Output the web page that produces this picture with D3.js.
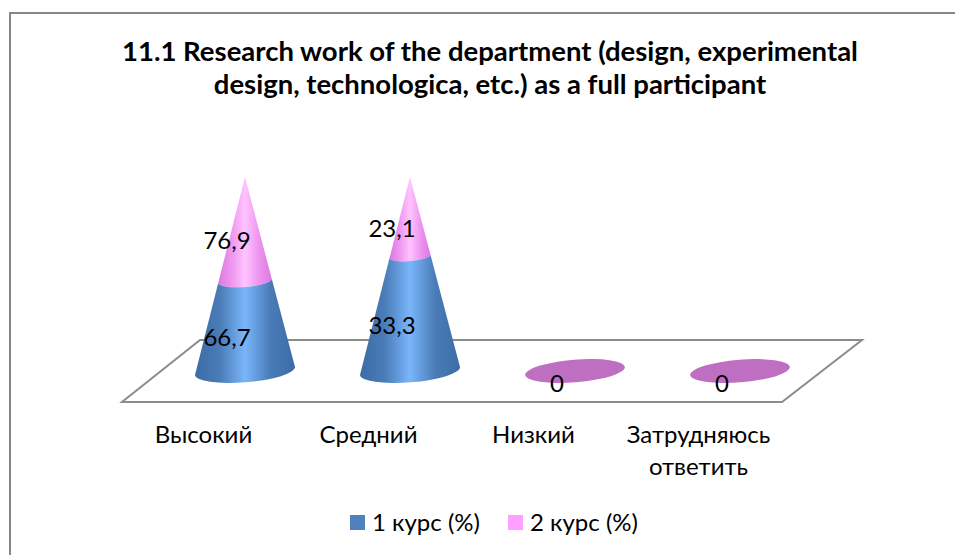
<!DOCTYPE html>
<html>
<head>
<meta charset="utf-8">
<script src="https://cdn.jsdelivr.net/npm/d3@7"></script>
<style>
body { margin: 0; background: #fff; }
svg { display: block; }
text { font-family: Lato, "Open Sans", sans-serif; fill: #000; }
</style>
</head>
<body>
<div id="draw"></div>
<script>
var titleLines = ["11.1 Research work of the department (design, experimental", "design, technologica, etc.) as a full participant"];
var categories = ["Высокий", "Средний", "Низкий", "Затрудняюсь ответить"];
var seriesNames = ["1 курс (%)", "2 курс (%)"];
var course1 = [66.7, 33.3, 0, 0];
var course2 = [76.9, 23.1, 0, 0];
var legendColors = ["#4f81bd", "#ff9fff"];

var width = 955, height = 555;
var svg = d3.select("#draw").append("svg")
	.attr("width", width)
	.attr("height", height);

var defs = svg.append("defs");
function coneGradient(id, stops) {
	var g = defs.append("linearGradient").attr("id", id);
	stops.forEach(function(s) {
		g.append("stop").attr("offset", s[0]).attr("stop-color", s[1]);
	});
}
coneGradient("blueCone", [[0, "#3c6ca5"], [0.25, "#4a7cb8"], [0.5, "#7ab6fb"], [0.75, "#4a7cb8"], [1, "#3c6ca5"]]);
coneGradient("pinkCone", [[0, "#dc78e2"], [0.25, "#ee96f0"], [0.5, "#ffc4ff"], [0.75, "#ee96f0"], [1, "#dc78e2"]]);

// frame, only top and left are in the picture
svg.append("path")
	.attr("d", "M10,555V13H955")
	.attr("fill", "none")
	.attr("stroke", "#868686")
	.attr("stroke-width", 2);

svg.selectAll(".title")
	.data(titleLines)
	.enter()
	.append("text")
	.attr("class", "title")
	.attr("x", 490)
	.attr("y", function(d, i) { return 61 + i * 33; })
	.attr("text-anchor", "middle")
	.style("font-size", "27.5px")
	.style("font-weight", 700)
	.text(function(d) { return d; });

// floor
var floor = [[122, 402], [782, 402], [862, 340], [200, 340]];
svg.append("path")
	.attr("d", d3.line()(floor) + "Z")
	.attr("fill", "#fff")
	.attr("stroke", "#8c8c8c")
	.attr("stroke-width", 2);

var x = d3.scaleBand()
	.domain(categories)
	.range([162.5, 822.5]);

// values are stacked to 100% of each category
var y = d3.scaleLinear().domain([0, 100]).range([371, 177]);
var baseRx = 50, baseRy = 11.3, tilt = -4.6;

var rows = categories.map(function(c, i) {
	var total = course1[i] + course2[i];
	return {
		cat: c,
		a: course1[i],
		b: course2[i],
		split: total ? course1[i] / total * 100 : 0,
		total: total
	};
});

function cx(d) { return x(d.cat) + x.bandwidth() / 2; }

// half-width of the cone at a given percent height
var radius = d3.scaleLinear().domain([0, 100]).range([baseRx, 0]);

function sliceBlue(d) {
	var c = cx(d), y0 = y(0), y1 = y(d.split), r0 = radius(0), r1 = radius(d.split);
	var t0 = Math.tan(tilt * Math.PI / 180) * r0, t1 = Math.tan(tilt * Math.PI / 180) * r1;
	return "M" + (c - r0) + "," + (y0 - t0) +
		"L" + (c - r1) + "," + (y1 - t1) +
		"A" + r1 + "," + (r1 * baseRy / baseRx) + " " + tilt + " 0 0 " + (c + r1) + "," + (y1 + t1) +
		"L" + (c + r0) + "," + (y0 + t0) +
		"A" + r0 + "," + baseRy + " " + tilt + " 0 1 " + (c - r0) + "," + (y0 - t0) + "Z";
}
function slicePink(d) {
	var c = cx(d), y1 = y(d.split), r1 = radius(d.split);
	var t1 = Math.tan(tilt * Math.PI / 180) * r1;
	return "M" + (c - r1) + "," + (y1 - t1) +
		"L" + c + "," + y(100) +
		"L" + (c + r1) + "," + (y1 + t1) +
		"A" + r1 + "," + (r1 * baseRy / baseRx) + " " + tilt + " 0 1 " + (c - r1) + "," + (y1 - t1) + "Z";
}

var cones = rows.filter(function(d) { return d.total > 0; });
svg.selectAll(".pink").data(cones).enter().append("path")
	.attr("class", "pink").attr("d", slicePink).attr("fill", "url(#pinkCone)");
svg.selectAll(".blue").data(cones).enter().append("path")
	.attr("class", "blue").attr("d", sliceBlue).attr("fill", "url(#blueCone)");

// zero values collapse to a flat disc
svg.selectAll(".disc").data(rows.filter(function(d) { return d.total === 0; })).enter().append("ellipse")
	.attr("class", "disc")
	.attr("cx", 0).attr("cy", 0)
	.attr("rx", baseRx).attr("ry", baseRy)
	.attr("fill", "#bf6fc2")
	.attr("transform", function(d) { return "translate(" + cx(d) + "," + y(0) + ") rotate(" + tilt + ")"; });

// data labels
var fmt = function(v) { return String(v).replace(".", ","); };
var labels = [];
rows.forEach(function(d, i) {
	if (d.total > 0) {
		labels.push({ x: cx(d) - 18, y: y(d.split / 2) + 20, t: fmt(d.a) });
		labels.push({ x: cx(d) - 18, y: y((d.split + 100) / 2) + 20, t: fmt(d.b) });
	} else {
		labels.push({ x: cx(d) - 18, y: y(0) + 21, t: fmt(d.a) });
	}
});
svg.selectAll(".dlabel").data(labels).enter().append("text")
	.attr("class", "dlabel")
	.attr("x", function(d) { return d.x; })
	.attr("y", function(d) { return d.y; })
	.attr("text-anchor", "middle")
	.style("font-size", "24px")
	.text(function(d) { return d.t; });

// category labels
var catLines = [["Высокий"], ["Средний"], ["Низкий"], ["Затрудняюсь", "ответить"]];
var catG = svg.selectAll(".cat").data(rows).enter().append("text")
	.attr("class", "cat")
	.attr("text-anchor", "middle")
	.style("font-size", "24px");
catG.selectAll("tspan")
	.data(function(d, i) { return catLines[i].map(function(t) { return { t: t, c: cx(d) - 41.5 }; }); })
	.enter()
	.append("tspan")
	.attr("x", function(d) { return d.c; })
	.attr("y", function(d, i) { return 443 + i * 32; })
	.text(function(d) { return d.t; });

// legend
var legendX = [350, 508];
var legend = svg.selectAll(".leg").data(seriesNames).enter().append("g").attr("class", "leg");
legend.append("rect")
	.attr("x", function(d, i) { return legendX[i]; })
	.attr("y", 515).attr("width", 15).attr("height", 15)
	.attr("fill", function(d, i) { return legendColors[i]; });
legend.append("text")
	.attr("x", function(d, i) { return legendX[i] + 22; })
	.attr("y", 531)
	.style("font-size", "24px")
	.text(function(d) { return d; });
</script>
</body>
</html>
